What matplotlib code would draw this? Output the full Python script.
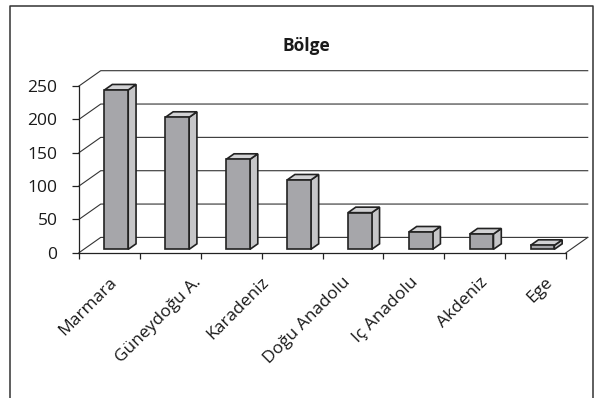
import matplotlib
matplotlib.use('Agg')
import matplotlib.pyplot as plt
from matplotlib.patches import Polygon
from matplotlib.lines import Line2D

plt.rcParams['font.family'] = ['Open Sans', 'DejaVu Sans']

# data
values = [239, 198, 135, 104, 55, 26, 23, 6]
labels = ['Marmara', 'Güneydoğu A.', 'Karadeniz', 'Doğu Anadolu',
          'Iç Anadolu', 'Akdeniz', 'Ege']
yticks = [0, 50, 100, 150, 200, 250]
title = 'Bölge'

# layout (pixels of the 598x398 picture, category units, depth fractions)
W, H = 598, 398
label_x = [0.58, 1.97, 3.08, 4.42, 5.54, 6.68, 7.73]
label_y = -41
DX, DY = 0.357, 22.95          # oblique shift of the full floor depth
bar_a, bar_b = 0.34, 0.73      # bar left/right inside a category
bar_z0, bar_z1 = 0.22, 0.58    # bar front/back depth
line_col = '#222222'
front_col, side_col, top_col = '#a6a6aa', '#c6c6c8', '#d2d2d4'

fig = plt.figure(figsize=(W / 100, H / 100), dpi=100)
ax = fig.add_axes([79 / W, 1 - 252.7 / H, (566 - 79) / W, 166.7 / H])
ax.set_xlim(0, len(values))
ax.set_ylim(0, 250)
ax.patch.set_alpha(0)


def proj(x, y, z):
    return x + z * DX, y + z * DY


n = len(values)
# back wall and side wall gridlines
for v in yticks:
    xs, ys = zip((0, v), proj(0, v, 1), proj(n, v, 1))
    ax.plot(xs, ys, color='#333333', lw=0.8, clip_on=False, zorder=1)
# right edge of the floor
xs, ys = zip((n, 0), proj(n, 0, 1))
ax.plot(xs, ys, color='#333333', lw=0.8, clip_on=False, zorder=1)

# bars
for i, v in enumerate(values):
    a, b = i + bar_a, i + bar_b
    front = [proj(a, 0, bar_z0), proj(b, 0, bar_z0), proj(b, v, bar_z0), proj(a, v, bar_z0)]
    side = [proj(b, 0, bar_z0), proj(b, 0, bar_z1), proj(b, v, bar_z1), proj(b, v, bar_z0)]
    top = [proj(a, v, bar_z0), proj(b, v, bar_z0), proj(b, v, bar_z1), proj(a, v, bar_z1)]
    for pts, col in ((side, side_col), (top, top_col), (front, front_col)):
        ax.add_patch(Polygon(pts, closed=True, facecolor=col, edgecolor=line_col,
                             lw=1.2, joinstyle='miter', clip_on=False, zorder=3))

for s in ('top', 'right'):
    ax.spines[s].set_visible(False)
for s in ('left', 'bottom'):
    ax.spines[s].set_color(line_col)
    ax.spines[s].set_linewidth(0.9)
    ax.spines[s].set_zorder(4)

ax.set_yticks(yticks)
ax.tick_params(axis='y', direction='out', length=5, width=0.9, color=line_col,
               pad=10.5, labelsize=12.5, labelcolor='#1a1a1a')
ax.set_xticks(range(n + 1))
ax.set_xticklabels([])
ax.tick_params(axis='x', direction='out', length=4.5, width=0.9, color=line_col)

for x, lab in zip(label_x, labels):
    ax.text(x, label_y, lab, rotation=45, ha='right', va='center',
            rotation_mode='anchor', fontsize=12.5, color='#1a1a1a', clip_on=False)

fig.text(306 / W, 1 - 51 / H, title, ha='center', va='baseline',
         fontsize=12.5, fontweight='bold', color='#1a1a1a')

# chart frame (bottom edge is outside the picture)
fig.add_artist(Line2D([9.5 / W, 9.5 / W, 593 / W, 593 / W],
                      [-0.05, 1 - 5.5 / H, 1 - 5.5 / H, -0.05],
                      transform=fig.transFigure, color='#333333', lw=1.1))

fig.savefig('out.png', dpi=100)
